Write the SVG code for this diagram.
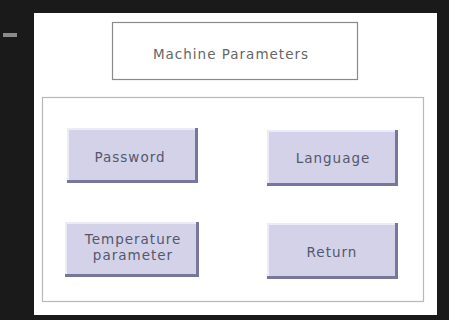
<svg xmlns="http://www.w3.org/2000/svg" width="449" height="320" viewBox="0 0 449 320">
<style>
.lbl{font-family:"DejaVu Sans","Liberation Sans",sans-serif;font-size:13.5px;letter-spacing:1px;fill:#55576e;text-anchor:middle}
.btn{fill:#d3d2e8}
.hi{fill:none;stroke:#ecebf6;stroke-width:2}
.sh{fill:none;stroke:#77769c;stroke-width:3}
</style>
<rect x="0" y="0" width="449" height="320" fill="#1a1a1a"/>
<rect x="3" y="33" width="14" height="4" fill="#8a8a8a"/>
<rect x="34" y="13" width="403" height="302" fill="#ffffff"/>
<g id="title">
<rect x="112.5" y="22.5" width="245" height="57" fill="#fff" stroke="#8a8a8a" stroke-width="1.2"/>
<text class="lbl" x="231" y="59" style="fill:#666">Machine Parameters</text>
</g>
<g id="frame">
<rect x="42.5" y="97.5" width="381" height="204" fill="none" stroke="#b8b8b8" stroke-width="1.2"/>
</g>
<g id="password">
<rect class="btn" x="67" y="128" width="131" height="55"/>
<path class="hi" d="M68,182 V129 H197"/>
<path class="sh" d="M67,181.5 H196.5 V128"/>
<text class="lbl" x="130" y="162">Password</text>
</g>
<g id="language">
<rect class="btn" x="267" y="130" width="131" height="56"/>
<path class="hi" d="M268,185 V131 H397"/>
<path class="sh" d="M267,184.5 H396.5 V130"/>
<text class="lbl" x="333" y="163">Language</text>
</g>
<g id="temperature">
<rect class="btn" x="65" y="222" width="134" height="55"/>
<path class="hi" d="M66,276 V223 H198"/>
<path class="sh" d="M65,275.5 H197.5 V222"/>
<text class="lbl" x="133" y="244">Temperature</text>
<text class="lbl" x="133" y="260">parameter</text>
</g>
<g id="return">
<rect class="btn" x="267" y="223" width="131" height="56"/>
<path class="hi" d="M268,278 V224 H397"/>
<path class="sh" d="M267,277.5 H396.5 V223"/>
<text class="lbl" x="332" y="257">Return</text>
</g>
<g id="connectors"></g>
</svg>
